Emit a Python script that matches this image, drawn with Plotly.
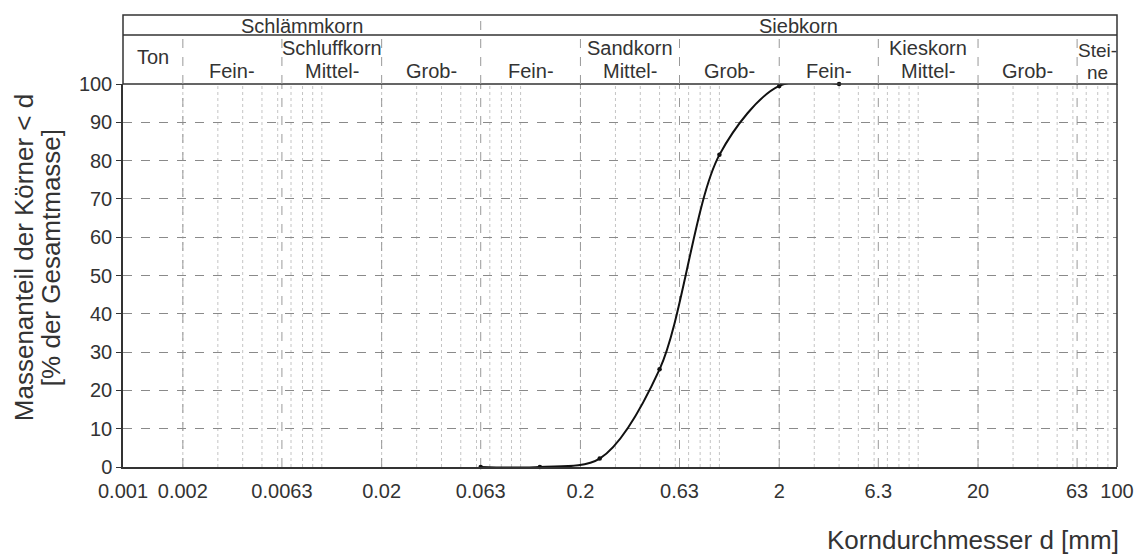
import math
import plotly.graph_objects as go

# Grain size distribution (sieve analysis)
grain_d = [0.063, 0.125, 0.25, 0.5, 1.0, 2.0, 4.0]          # mm
passing = [0.0, 0.0, 2.2, 25.5, 81.5, 99.5, 100.0]        # % finer

x_tickvals = [0.001, 0.002, 0.0063, 0.02, 0.063, 0.2, 0.63, 2, 6.3, 20, 63, 100]
x_ticktext = ["0.001", "0.002", "0.0063", "0.02", "0.063", "0.2", "0.63", "2", "6.3", "20", "63", "100"]
y_tickvals = [0, 10, 20, 30, 40, 50, 60, 70, 80, 90, 100]

# Classification header: main groups, soil types, sub-fractions
main_groups = [("Schlämmkorn", 0.001, 0.063), ("Siebkorn", 0.063, 100)]
soil_types = [("Schluffkorn", 0.002, 0.063), ("Sandkorn", 0.063, 2), ("Kieskorn", 2, 63)]
fractions = [
    ("Fein-", 0.002, 0.0063), ("Mittel-", 0.0063, 0.02), ("Grob-", 0.02, 0.063),
    ("Fein-", 0.063, 0.2), ("Mittel-", 0.2, 0.63), ("Grob-", 0.63, 2),
    ("Fein-", 2, 6.3), ("Mittel-", 6.3, 20), ("Grob-", 20, 63),
]
clay_class = ("Ton", 0.001, 0.002)
stone_class = (["Stei-", "ne"], 63, 100)
class_bounds = [0.002, 0.0063, 0.02, 0.063, 0.2, 0.63, 2, 6.3, 20, 63]

XMIN, XMAX = 0.001, 100.0
FONT = "Liberation Sans, Arial, sans-serif"
INK = "#333333"

# plot area in pixels (used to place header rows)
PLOT_LEFT, PLOT_WIDTH = 123, 996
PLOT_TOP, PLOT_BOTTOM = 84, 467


def frac(v):
    return (math.log10(v) - math.log10(XMIN)) / (math.log10(XMAX) - math.log10(XMIN))


def px_x(px):
    return (px - PLOT_LEFT) / PLOT_WIDTH


def py(px):
    return (PLOT_BOTTOM - px) / (PLOT_BOTTOM - PLOT_TOP)


def gmean(a, b):
    return math.sqrt(a * b)


H_TOP = py(15)
H_ROW = py(35)
H_BOT = 1.0

fig = go.Figure()

fig.add_trace(go.Scatter(
    x=grain_d, y=passing, mode="lines+markers",
    line=dict(color="#111111", width=2, shape="spline", smoothing=0.9),
    marker=dict(color="#111111", size=4.5),
    cliponaxis=False, showlegend=False,
))

shapes = []

# light vertical grid at 1..9 x 10^k
minor_vals = []
for k in range(-3, 2):
    for n in range(1, 10):
        v = n * 10 ** k
        if XMIN < v < XMAX:
            minor_vals.append(v)
for v in minor_vals:
    shapes.append(dict(type="line", xref="paper", yref="paper", x0=frac(v), x1=frac(v),
                       y0=0, y1=1, line=dict(color="#c4c4c4", width=1, dash="dot"), layer="below"))
for v in class_bounds:
    shapes.append(dict(type="line", xref="paper", yref="paper", x0=frac(v), x1=frac(v),
                       y0=0, y1=1, line=dict(color="#9a9a9a", width=1, dash="dash"), layer="below"))

# header frame
shapes.append(dict(type="rect", xref="paper", yref="paper", x0=0, x1=1, y0=H_BOT, y1=H_TOP,
                   line=dict(color=INK, width=1.5)))
shapes.append(dict(type="line", xref="paper", yref="paper", x0=0, x1=1, y0=H_ROW, y1=H_ROW,
                   line=dict(color=INK, width=1.5)))
# group separator spans both rows
shapes.append(dict(type="line", xref="paper", yref="paper", x0=frac(0.063), x1=frac(0.063),
                   y0=H_BOT, y1=H_TOP, line=dict(color="#999999", width=1, dash="dash")))
for v in class_bounds:
    if v == 0.063:
        continue
    shapes.append(dict(type="line", xref="paper", yref="paper", x0=frac(v), x1=frac(v),
                       y0=H_BOT, y1=H_ROW, line=dict(color="#999999", width=1, dash="dash")))
# right border of plot area
shapes.append(dict(type="line", xref="paper", yref="paper", x0=1, x1=1, y0=0, y1=1,
                   line=dict(color=INK, width=1.5)))

annotations = []
tf = dict(family=FONT, size=20, color=INK)


def label(text, x, ypx, font=tf):
    annotations.append(dict(text=text, xref="paper", yref="paper", x=x, y=py(ypx),
                            showarrow=False, font=font, xanchor="center", yanchor="middle"))


for name, a, b in main_groups:
    label(name, frac(gmean(a, b)), 26)
for name, a, b in soil_types:
    label(name, frac(gmean(a, b)), 48)
for name, a, b in fractions:
    label(name, frac(gmean(a, b)), 71)
label(clay_class[0], frac(gmean(clay_class[1], clay_class[2])), 57)
stone_font = dict(family=FONT, size=19, color=INK)
label(stone_class[0][0], frac(gmean(stone_class[1], stone_class[2])), 51, stone_font)
label(stone_class[0][1], frac(gmean(stone_class[1], stone_class[2])), 73, stone_font)

# y-axis title as two rotated lines
title_font = dict(family=FONT, size=26, color=INK)
for text, xpx in [("Massenanteil der Körner < d", 24), ("[% der Gesamtmasse]", 51)]:
    annotations.append(dict(text=text, xref="paper", yref="paper", x=px_x(xpx),
                            y=py(258), textangle=-90, showarrow=False, font=title_font,
                            xanchor="center", yanchor="middle"))
annotations.append(dict(text="Korndurchmesser d [mm]", xref="paper", yref="paper",
                        x=px_x(1123), y=py(540), showarrow=False, font=title_font,
                        xanchor="right", yanchor="middle"))

fig.update_layout(
    width=1146, height=554,
    margin=dict(l=123, r=27, t=84, b=87),
    paper_bgcolor="white", plot_bgcolor="white",
    shapes=shapes, annotations=annotations,
    xaxis=dict(type="log", range=[math.log10(XMIN), math.log10(XMAX)],
               tickvals=x_tickvals, ticktext=x_ticktext, showgrid=False,
               showline=True, linecolor=INK, linewidth=1.5, ticks="",
               ticklabelstandoff=5,
               tickfont=dict(family=FONT, size=20, color=INK), zeroline=False),
    yaxis=dict(range=[0, 100], tickvals=y_tickvals, showgrid=True, gridcolor="#8a8a8a",
               griddash="dash", gridwidth=1, showline=True, linecolor=INK, linewidth=1.5,
               ticks="outside", ticklen=5, tickcolor=INK,
               tickfont=dict(family=FONT, size=20, color=INK), zeroline=False),
)

fig.write_html("out.html")
